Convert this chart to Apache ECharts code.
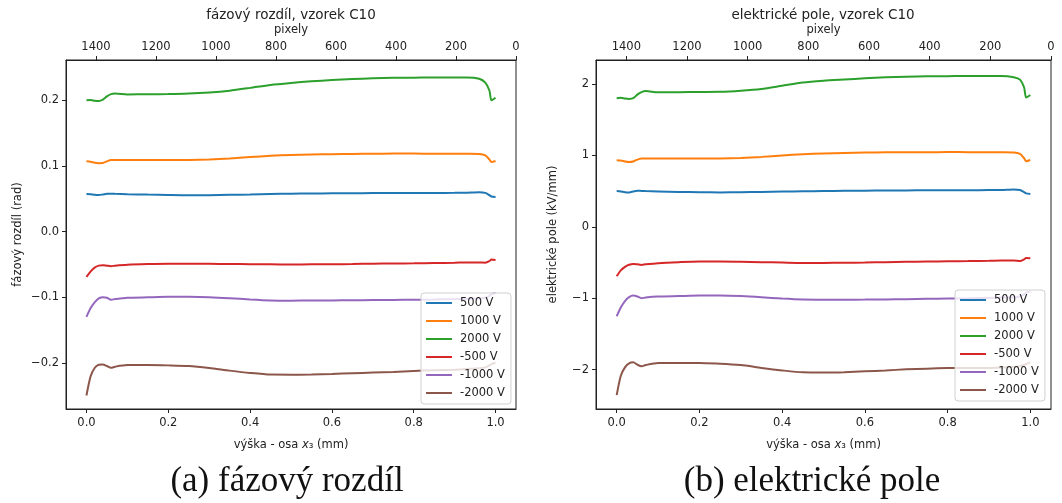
<!DOCTYPE html>
<html>
<head>
<meta charset="utf-8">
<script src="https://cdn.jsdelivr.net/npm/echarts@6/dist/echarts.min.js"></script>
<style>html,body{margin:0;padding:0;background:#fff}#c{width:1062px;height:503px}</style>
</head>
<body>
<div id="c"></div>
<script>
// x positions (mm)
const xs = [0, 0.01, 0.02, 0.03, 0.04, 0.05, 0.06, 0.07, 0.1, 0.15, 0.2, 0.25, 0.3, 0.35, 0.4, 0.45, 0.5, 0.55, 0.6, 0.65, 0.7, 0.75, 0.8, 0.85, 0.9, 0.93, 0.96, 0.975, 0.985, 0.99, 1.0];
const seriesNames = ['500 V', '1000 V', '2000 V', '-500 V', '-1000 V', '-2000 V'];
const colors = ['#1f77b4', '#ff7f0e', '#2ca02c', '#d62728', '#9467bd', '#8c564b'];

// fázový rozdíl (rad)
const phase500 = [0.0573, 0.0570, 0.0560, 0.0557, 0.0565, 0.0575, 0.0578, 0.0575, 0.0570, 0.0563, 0.0557, 0.0553, 0.0555, 0.0560, 0.0565, 0.0572, 0.0577, 0.0580, 0.0582, 0.0584, 0.0586, 0.0587, 0.0588, 0.0589, 0.0590, 0.0592, 0.0598, 0.0590, 0.0555, 0.0535, 0.0527];
const phase1000 = [0.1070, 0.1065, 0.1050, 0.1043, 0.1045, 0.1070, 0.1090, 0.1092, 0.1090, 0.1090, 0.1090, 0.1092, 0.1100, 0.1115, 0.1135, 0.1155, 0.1168, 0.1176, 0.1180, 0.1184, 0.1187, 0.1188, 0.1188, 0.1187, 0.1186, 0.1185, 0.1182, 0.1160, 0.1100, 0.1060, 0.1075];
const phase2000 = [0.2000, 0.2005, 0.1995, 0.1990, 0.2010, 0.2060, 0.2095, 0.2105, 0.2090, 0.2093, 0.2095, 0.2103, 0.2120, 0.2148, 0.2190, 0.2235, 0.2265, 0.2290, 0.2310, 0.2325, 0.2335, 0.2343, 0.2345, 0.2350, 0.2348, 0.2350, 0.2330, 0.2270, 0.2150, 0.2000, 0.2040];
const phaseM500 = [-0.0692, -0.0610, -0.0550, -0.0520, -0.0512, -0.0520, -0.0528, -0.0520, -0.0505, -0.0495, -0.0490, -0.0490, -0.0492, -0.0495, -0.0498, -0.0500, -0.0502, -0.0500, -0.0498, -0.0495, -0.0490, -0.0487, -0.0484, -0.0480, -0.0476, -0.0470, -0.0470, -0.0475, -0.0450, -0.0425, -0.0435];
const phaseM1000 = [-0.1300, -0.1170, -0.1080, -0.1020, -0.1000, -0.1010, -0.1040, -0.1030, -0.1010, -0.1002, -0.0995, -0.0995, -0.1000, -0.1015, -0.1035, -0.1050, -0.1053, -0.1052, -0.1050, -0.1048, -0.1045, -0.1042, -0.1040, -0.1036, -0.1030, -0.1025, -0.1020, -0.1010, -0.0980, -0.0955, -0.0940];
const phaseM2000 = [-0.2500, -0.2210, -0.2080, -0.2030, -0.2025, -0.2050, -0.2077, -0.2060, -0.2036, -0.2035, -0.2040, -0.2050, -0.2080, -0.2120, -0.2155, -0.2180, -0.2182, -0.2178, -0.2170, -0.2160, -0.2150, -0.2140, -0.2125, -0.2115, -0.2105, -0.2095, -0.2085, -0.2070, -0.2040, -0.2020, -0.2000];

// elektrické pole (kV/mm)
const field500 = [0.501, 0.495, 0.485, 0.482, 0.495, 0.506, 0.503, 0.500, 0.495, 0.488, 0.484, 0.482, 0.484, 0.488, 0.493, 0.498, 0.501, 0.504, 0.506, 0.508, 0.510, 0.511, 0.512, 0.513, 0.514, 0.515, 0.522, 0.515, 0.485, 0.468, 0.459];
const field1000 = [0.932, 0.928, 0.915, 0.908, 0.915, 0.940, 0.955, 0.957, 0.955, 0.955, 0.955, 0.957, 0.965, 0.979, 0.998, 1.016, 1.027, 1.035, 1.040, 1.043, 1.045, 1.045, 1.046, 1.045, 1.044, 1.043, 1.040, 1.020, 0.960, 0.918, 0.935];
const field2000 = [1.800, 1.805, 1.795, 1.790, 1.800, 1.850, 1.885, 1.900, 1.883, 1.885, 1.888, 1.890, 1.905, 1.930, 1.975, 2.020, 2.045, 2.062, 2.078, 2.092, 2.100, 2.106, 2.108, 2.112, 2.110, 2.112, 2.094, 2.060, 1.950, 1.810, 1.845];
const fieldM500 = [-0.692, -0.610, -0.560, -0.530, -0.519, -0.525, -0.533, -0.525, -0.509, -0.495, -0.486, -0.486, -0.490, -0.495, -0.500, -0.505, -0.505, -0.503, -0.500, -0.495, -0.490, -0.486, -0.483, -0.480, -0.476, -0.472, -0.472, -0.478, -0.455, -0.435, -0.439];
const fieldM1000 = [-1.252, -1.130, -1.040, -0.985, -0.963, -0.975, -1.000, -0.990, -0.977, -0.970, -0.963, -0.963, -0.970, -0.985, -1.005, -1.019, -1.021, -1.020, -1.019, -1.017, -1.013, -1.008, -1.004, -1.000, -0.995, -0.990, -0.985, -0.975, -0.945, -0.920, -0.907];
const fieldM2000 = [-2.355, -2.084, -1.967, -1.910, -1.897, -1.930, -1.953, -1.935, -1.907, -1.905, -1.907, -1.915, -1.935, -1.975, -2.010, -2.037, -2.040, -2.035, -2.023, -2.010, -1.995, -1.985, -1.977, -1.975, -1.975, -1.970, -1.960, -1.950, -1.935, -1.920, -1.897];

// tick labels
const xTicks = [0, 0.2, 0.4, 0.6, 0.8, 1.0];
const pixTicks = [0, 200, 400, 600, 800, 1000, 1200, 1400];
const phaseTicks = [-0.2, -0.1, 0, 0.1, 0.2];
const fieldTicks = [-2, -1, 0, 1, 2];

const phaseSets = [phase500, phase1000, phase2000, phaseM500, phaseM1000, phaseM2000];
const fieldSets = [field500, field1000, field2000, fieldM500, fieldM1000, fieldM2000];

const FONT = 'DejaVu Sans';
const INK = '#222';
const minus = s => s.replace('-', '\u2212');

function bottomX(gi) {
  return {
    type: 'value', gridIndex: gi, position: 'bottom', min: -0.05, max: 1.05,
    name: '{n|výška - osa }{i|x}{n|\u2083 (mm)}', nameLocation: 'middle', nameGap: 30,
    nameTextStyle: { fontFamily: FONT, fontSize: 11.5, color: INK, rich: { n: { fontFamily: FONT, fontSize: 11.5, color: INK }, i: { fontFamily: FONT, fontSize: 11.5, fontStyle: 'italic', color: INK } } },
    axisLine: { show: true, onZero: false, lineStyle: { color: INK, width: 1 } },
    axisTick: { show: true, length: 4, lineStyle: { color: INK }, customValues: xTicks },
    axisLabel: { customValues: xTicks, margin: 8, fontFamily: FONT, fontSize: 11.5, color: INK, formatter: v => v.toFixed(1) },
    splitLine: { show: false }
  };
}
function topX(gi) {
  return {
    type: 'value', gridIndex: gi, position: 'top', min: 0, max: 1500, inverse: true,
    name: 'pixely', nameLocation: 'middle', nameGap: 20,
    nameTextStyle: { fontFamily: FONT, fontSize: 11.5, color: INK },
    axisLine: { show: true, onZero: false, lineStyle: { color: INK, width: 1 } },
    axisTick: { show: true, length: 4, lineStyle: { color: INK }, customValues: pixTicks },
    axisLabel: { customValues: pixTicks, margin: 7, fontFamily: FONT, fontSize: 11.5, color: INK, formatter: v => String(v) },
    splitLine: { show: false }
  };
}
function leftY(gi, min, max, ticks, name, fmt, gap) {
  return {
    type: 'value', gridIndex: gi, min: min, max: max, position: 'left',
    name: name, nameLocation: 'middle', nameGap: gap,
    nameTextStyle: { fontFamily: FONT, fontSize: 11.5, color: INK },
    axisLine: { show: true, onZero: false, lineStyle: { color: INK, width: 1 } },
    axisTick: { show: true, length: 4, lineStyle: { color: INK }, customValues: ticks },
    axisLabel: { customValues: ticks, margin: 7, fontFamily: FONT, fontSize: 11.5, color: INK, formatter: fmt },
    splitLine: { show: false }
  };
}
function legendAt(left, top) {
  return {
    data: seriesNames, orient: 'vertical', left: left, top: top,
    itemWidth: 26, itemHeight: 2, itemGap: 4, icon: 'rect',
    padding: [3, 6, 4, 5],
    backgroundColor: 'rgba(255,255,255,0.8)', borderColor: '#d0d0d0', borderWidth: 1, borderRadius: 3,
    textStyle: { fontFamily: FONT, fontSize: 11.5, color: INK, lineHeight: 14, padding: [0, 0, 0, 3] },
    selectedMode: false
  };
}

const series = [];
seriesNames.forEach((n, k) => {
  series.push({ name: n, type: 'line', xAxisIndex: 0, yAxisIndex: 0, showSymbol: false, smooth: 0.25,
    lineStyle: { width: 2, color: colors[k] }, itemStyle: { color: colors[k] },
    data: xs.map((x, i) => [x, phaseSets[k][i]]) });
});
seriesNames.forEach((n, k) => {
  series.push({ name: n, type: 'line', xAxisIndex: 2, yAxisIndex: 1, showSymbol: false, smooth: 0.25,
    lineStyle: { width: 2, color: colors[k] }, itemStyle: { color: colors[k] },
    data: xs.map((x, i) => [x, fieldSets[k][i]]) });
});

const chart = echarts.init(document.getElementById('c'), null, { renderer: 'canvas' });
chart.setOption({
  animation: false,
  backgroundColor: '#fff',
  grid: [
    { left: 66, top: 60, width: 450, height: 349, show: true, borderColor: INK, borderWidth: 1, backgroundColor: 'transparent' },
    { left: 596, top: 60, width: 455, height: 349, show: true, borderColor: INK, borderWidth: 1, backgroundColor: 'transparent' }
  ],
  xAxis: [bottomX(0), topX(0), bottomX(1), topX(1)],
  yAxis: [
    leftY(0, -0.2705, 0.2615, phaseTicks, 'fázový rozdíl (rad)', v => minus(v.toFixed(1)), 42),
    leftY(1, -2.55, 2.335, fieldTicks, 'elektrické pole (kV/mm)', v => minus(String(Math.round(v))), 37)
  ],
  legend: [legendAt(421, 293), legendAt(955, 290)],
  series: series,
  graphic: [
    { type: 'text', x: 291, y: 15, style: { text: 'fázový rozdíl, vzorek C10', fontFamily: FONT, fontSize: 13.5, fill: INK, align: 'center', verticalAlign: 'middle' } },
    { type: 'text', x: 823, y: 15, style: { text: 'elektrické pole, vzorek C10', fontFamily: FONT, fontSize: 13.5, fill: INK, align: 'center', verticalAlign: 'middle' } },
    { type: 'text', x: 287, y: 482, style: { text: '(a) fázový rozdíl', fontFamily: 'Liberation Serif', fontSize: 35, fill: '#111', align: 'center', verticalAlign: 'middle' } },
    { type: 'text', x: 812, y: 482, style: { text: '(b) elektrické pole', fontFamily: 'Liberation Serif', fontSize: 35, fill: '#111', align: 'center', verticalAlign: 'middle' } }
  ]
});
</script>
</body>
</html>
